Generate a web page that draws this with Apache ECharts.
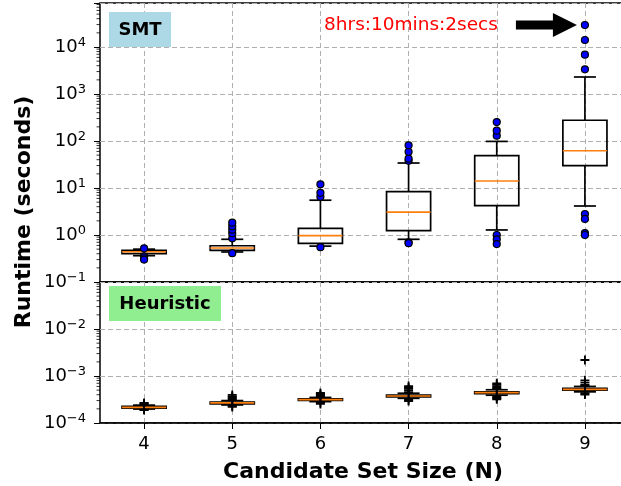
<!DOCTYPE html>
<html>
<head>
<meta charset="utf-8">
<script src="https://cdn.jsdelivr.net/npm/echarts@6/dist/echarts.min.js"></script>
<style>
  html, body { margin: 0; padding: 0; background: #fff; }
  #main { width: 621px; height: 486px; }
</style>
</head>
<body>
<div id="main"></div>
<script>
// candidate set sizes
var categories = ['4', '5', '6', '7', '8', '9'];

// SMT runtimes: [low whisker, q1, median, q3, high whisker] (seconds)
var smtStats = [
  [0.363, 0.40, 0.44, 0.472, 0.50],
  [0.435, 0.472, 0.529, 0.59, 0.81],
  [0.58, 0.665, 0.97, 1.39, 5.5],
  [0.81, 1.24, 3.08, 8.35, 34],
  [1.28, 4.2, 14.1, 48.7, 98],
  [4.14, 29.8, 62, 276, 2300]
];
// SMT outliers per N
var smtOutliers = [
  [0.52, 0.352, 0.32, 0.30],
  [0.85, 1.09, 1.30, 1.53, 1.83, 0.41],
  [6.5, 7.9, 12, 0.55],
  [38, 42, 59, 81, 0.70, 0.67],
  [130, 166, 253, 1.0, 0.81, 0.64],
  [3350, 6860, 14100, 29402, 2.8, 2.2, 1.1, 1.0]
];

// Heuristic runtimes: [low whisker, q1, median, q3, high whisker] (seconds)
var heuStats = [
  [1.98e-4, 2.08e-4, 2.16e-4, 2.26e-4, 2.40e-4],
  [2.42e-4, 2.56e-4, 2.67e-4, 2.79e-4, 3.0e-4],
  [2.85e-4, 3.01e-4, 3.13e-4, 3.26e-4, 3.5e-4],
  [3.35e-4, 3.6e-4, 3.75e-4, 3.92e-4, 4.3e-4],
  [3.9e-4, 4.23e-4, 4.42e-4, 4.62e-4, 5.1e-4],
  [4.6e-4, 4.98e-4, 5.21e-4, 5.46e-4, 6.0e-4]
];
// Heuristic outliers per N
var heuOutliers = [
  [2.5e-4, 2.6e-4, 2.67e-4, 1.93e-4, 1.89e-4],
  [3.1e-4, 3.3e-4, 3.5e-4, 3.7e-4, 3.95e-4, 2.3e-4, 2.2e-4],
  [3.7e-4, 3.9e-4, 4.1e-4, 4.35e-4, 2.7e-4, 2.54e-4],
  [4.5e-4, 4.9e-4, 5.3e-4, 5.7e-4, 6.1e-4, 3.1e-4, 2.94e-4],
  [5.3e-4, 5.6e-4, 6.0e-4, 6.5e-4, 7.0e-4, 3.6e-4, 3.4e-4, 3.2e-4],
  [21.9e-4, 8.1e-4, 7.2e-4, 6.5e-4, 6.2e-4, 4.3e-4, 4.04e-4]
];

var topMax = Math.pow(10, 4.936);
var FONT = 'DejaVu Sans';

// "10" with a raised exponent, like matplotlib's log labels
function logLabel(v) {
  var e = Math.log10(v);
  if (Math.abs(e - Math.round(e)) > 1e-6) return '';
  var s = String(Math.round(e)).replace('-', '\u2212');
  return '{b|10}{s|' + s + '}';
}
var labelRich = {
  b: {fontSize: 18, fontFamily: FONT, color: '#000', lineHeight: 22, verticalAlign: 'middle'},
  s: {fontSize: 13, fontFamily: FONT, color: '#000', lineHeight: 14, verticalAlign: 'top'}
};

function minorValues(lo, hi) {
  var arr = [];
  for (var e = lo; e < hi; e++) {
    for (var m = 2; m <= 9; m++) arr.push(m * Math.pow(10, e));
  }
  return arr;
}

function boxData(stats) {
  return stats.map(function (s, i) { return [i].concat(s); });
}
function outlierData(outs) {
  var d = [];
  outs.forEach(function (o, i) {
    o.forEach(function (v) { d.push([i, v]); });
  });
  return d;
}

function renderBox(params, api) {
  var i = api.value(0);
  var lo = api.coord([i, api.value(1)]);
  var q1 = api.coord([i, api.value(2)]);
  var med = api.coord([i, api.value(3)]);
  var q3 = api.coord([i, api.value(4)]);
  var hi = api.coord([i, api.value(5)]);
  var band = api.size([1, 0])[0];
  var hw = band * 0.25;
  var cw = band * 0.125;
  var x = lo[0];
  var st = {stroke: '#000', lineWidth: 1.7, fill: null};
  return {
    type: 'group',
    children: [
      {type: 'line', shape: {x1: x, y1: q1[1], x2: x, y2: lo[1]}, style: st},
      {type: 'line', shape: {x1: x, y1: q3[1], x2: x, y2: hi[1]}, style: st},
      {type: 'line', shape: {x1: x - cw, y1: lo[1], x2: x + cw, y2: lo[1]}, style: st},
      {type: 'line', shape: {x1: x - cw, y1: hi[1], x2: x + cw, y2: hi[1]}, style: st},
      {type: 'rect', shape: {x: x - hw, y: q3[1], width: 2 * hw, height: q1[1] - q3[1]}, style: {stroke: '#000', lineWidth: 1.7, fill: 'none'}},
      {type: 'line', shape: {x1: x - hw, y1: med[1], x2: x + hw, y2: med[1]}, style: {stroke: '#ff7f0e', lineWidth: 1.7}}
    ]
  };
}

function renderMinor(params, api) {
  var p = api.coord([0, api.value(1)]);
  var x0 = params.coordSys.x;
  return {type: 'line', shape: {x1: x0 - 3.5, y1: p[1], x2: x0, y2: p[1]}, style: {stroke: '#000', lineWidth: 0.8}};
}

var gridLine = {color: '#b0b0b0', type: [5, 3], width: 1};

var chart = echarts.init(document.getElementById('main'));
var option = {
  animation: false,
  backgroundColor: '#fff',
  textStyle: {fontFamily: FONT},
  grid: [
    {left: 100, top: 3, width: 529, height: 279, outerBoundsMode: 'none', containLabel: false,
      show: true, borderColor: '#000', borderWidth: 1.5, backgroundColor: 'transparent'},
    {left: 100, top: 282, width: 529, height: 141, outerBoundsMode: 'none', containLabel: false,
      show: true, borderColor: '#000', borderWidth: 1.5, backgroundColor: 'transparent'}
  ],
  xAxis: [
    {type: 'category', gridIndex: 0, data: categories, boundaryGap: true,
      axisLine: {show: false}, axisTick: {show: false}, axisLabel: {show: false},
      splitLine: {show: true, alignWithLabel: true, lineStyle: gridLine}},
    {type: 'category', gridIndex: 1, data: categories, boundaryGap: true,
      axisLine: {show: true, lineStyle: {color: '#000', width: 1.5}},
      axisTick: {show: true, alignWithLabel: true, length: 6, lineStyle: {color: '#000', width: 1}},
      axisLabel: {color: '#000', fontSize: 18, fontFamily: FONT, margin: 12},
      splitLine: {show: true, alignWithLabel: true, lineStyle: gridLine}}
  ],
  yAxis: [
    {type: 'log', gridIndex: 0, logBase: 10, min: 0.1, max: topMax,
      axisLine: {show: false},
      axisTick: {show: true, length: 6, lineStyle: {color: '#000', width: 1}},
      axisLabel: {margin: 14, formatter: logLabel, rich: labelRich},
      splitLine: {show: true, lineStyle: gridLine}},
    {type: 'log', gridIndex: 1, logBase: 10, min: 1e-4, max: 0.1,
      axisLine: {show: false},
      axisTick: {show: true, length: 6, lineStyle: {color: '#000', width: 1}},
      axisLabel: {margin: 14, rich: labelRich,
        formatter: function (v) { return v >= 0.099 ? '' : logLabel(v); }},
      splitLine: {show: true, lineStyle: gridLine}}
  ],
  series: [
    {type: 'custom', xAxisIndex: 0, yAxisIndex: 0, renderItem: renderMinor, silent: true, clip: false,
      data: minorValues(-1, 5).filter(function (v) { return v < topMax; }).map(function (v) { return [0, v]; })},
    {type: 'custom', xAxisIndex: 1, yAxisIndex: 1, renderItem: renderMinor, silent: true, clip: false,
      data: minorValues(-4, -1).map(function (v) { return [0, v]; })},
    {type: 'custom', xAxisIndex: 0, yAxisIndex: 0, renderItem: renderBox, data: boxData(smtStats), z: 3},
    {type: 'custom', xAxisIndex: 1, yAxisIndex: 1, renderItem: renderBox, data: boxData(heuStats), z: 3},
    {type: 'scatter', xAxisIndex: 0, yAxisIndex: 0, data: outlierData(smtOutliers), symbol: 'circle', symbolSize: 7,
      itemStyle: {color: '#0000ff', borderColor: '#000', borderWidth: 1.2, opacity: 1}, z: 4},
    {type: 'scatter', xAxisIndex: 1, yAxisIndex: 1, data: outlierData(heuOutliers),
      symbol: 'path://M4,0 H6 V4 H10 V6 H6 V10 H4 V6 H0 V4 H4 Z', symbolSize: 9,
      itemStyle: {color: '#000', opacity: 1}, z: 4}
  ]
};
chart.setOption(option);

// annotations placed from the data scale
var tip = chart.convertToPixel({xAxisIndex: 0, yAxisIndex: 0}, [5, 29402]);
var tx = tip[0] - 8, ty = tip[1];
chart.setOption({
  graphic: [
    {type: 'rect', left: 109, top: 12, shape: {width: 62, height: 35}, style: {fill: '#add8e6'}, z: 10},
    {type: 'text', x: 140, y: 30, style: {text: 'SMT', font: 'bold 18px "DejaVu Sans"', fill: '#000', textAlign: 'center', textVerticalAlign: 'middle'}, z: 11},
    {type: 'rect', left: 109, top: 286, shape: {width: 112, height: 35}, style: {fill: '#90ee90'}, z: 10},
    {type: 'text', x: 165, y: 304, style: {text: 'Heuristic', font: 'bold 18px "DejaVu Sans"', fill: '#000', textAlign: 'center', textVerticalAlign: 'middle'}, z: 11},
    {type: 'text', x: tx - 79, y: ty, style: {text: '8hrs:10mins:2secs', font: '18.5px "DejaVu Sans"', fill: '#ff0000', textAlign: 'right', textVerticalAlign: 'middle'}, z: 11},
    {type: 'polygon', shape: {points: [
      [tx - 61, ty - 4.5], [tx - 24, ty - 4.5], [tx - 24, ty - 12], [tx, ty],
      [tx - 24, ty + 12], [tx - 24, ty + 4.5], [tx - 61, ty + 4.5]
    ]}, style: {fill: '#000'}, z: 11},
    {type: 'text', x: 24, y: 212, rotation: Math.PI / 2, style: {text: 'Runtime (seconds)', font: 'bold 22px "DejaVu Sans"', fill: '#000', textAlign: 'center', textVerticalAlign: 'middle'}, z: 11},
    {type: 'text', x: 363, y: 472, style: {text: 'Candidate Set Size (N)', font: 'bold 22px "DejaVu Sans"', fill: '#000', textAlign: 'center', textVerticalAlign: 'middle'}, z: 11}
  ]
});
</script>
</body>
</html>
